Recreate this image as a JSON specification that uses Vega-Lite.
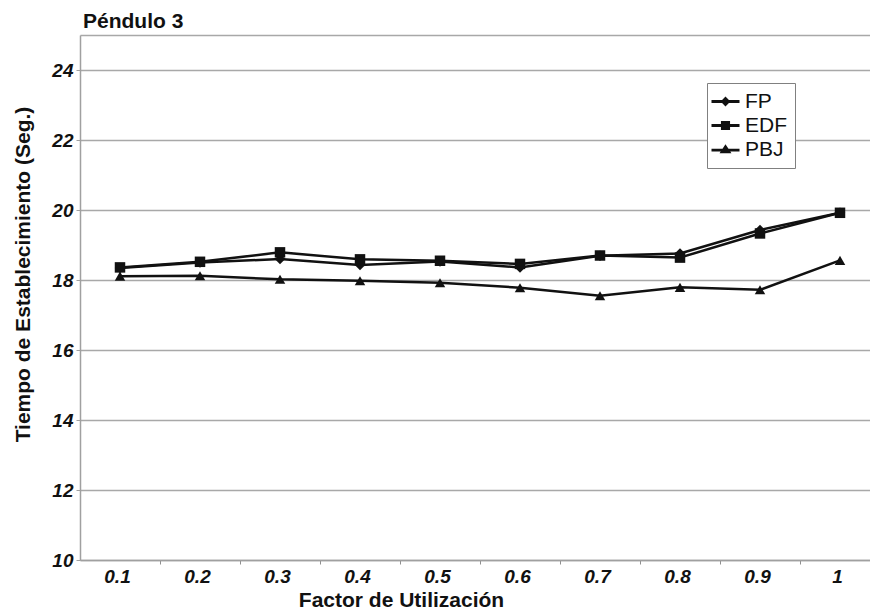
{
  "$schema": "https://vega.github.io/schema/vega-lite/v6.json",
  "width": 790,
  "height": 525,
  "autosize": {"type": "none"},
  "padding": {"left": 80, "top": 35, "right": 0, "bottom": 53},
  "background": "white",
  "title": {
    "text": "Péndulo 3",
    "anchor": "start",
    "frame": "group",
    "font": "Liberation Sans",
    "fontSize": 21,
    "fontWeight": "bold",
    "color": "#111111",
    "offset": 3,
    "dx": 3
  },
  "config": {
    "view": {"stroke": null},
    "font": "Liberation Sans"
  },
  "data": {
    "values": [
      {"u": "0.1", "s": "FP", "v": 18.34}, {"u": "0.1", "s": "EDF", "v": 18.36}, {"u": "0.1", "s": "PBJ", "v": 18.11},
      {"u": "0.2", "s": "FP", "v": 18.5}, {"u": "0.2", "s": "EDF", "v": 18.52}, {"u": "0.2", "s": "PBJ", "v": 18.12},
      {"u": "0.3", "s": "FP", "v": 18.6}, {"u": "0.3", "s": "EDF", "v": 18.79}, {"u": "0.3", "s": "PBJ", "v": 18.02},
      {"u": "0.4", "s": "FP", "v": 18.43}, {"u": "0.4", "s": "EDF", "v": 18.59}, {"u": "0.4", "s": "PBJ", "v": 17.98},
      {"u": "0.5", "s": "FP", "v": 18.53}, {"u": "0.5", "s": "EDF", "v": 18.55}, {"u": "0.5", "s": "PBJ", "v": 17.92},
      {"u": "0.6", "s": "FP", "v": 18.36}, {"u": "0.6", "s": "EDF", "v": 18.46}, {"u": "0.6", "s": "PBJ", "v": 17.78},
      {"u": "0.7", "s": "FP", "v": 18.69}, {"u": "0.7", "s": "EDF", "v": 18.7}, {"u": "0.7", "s": "PBJ", "v": 17.55},
      {"u": "0.8", "s": "FP", "v": 18.76}, {"u": "0.8", "s": "EDF", "v": 18.64}, {"u": "0.8", "s": "PBJ", "v": 17.79},
      {"u": "0.9", "s": "FP", "v": 19.43}, {"u": "0.9", "s": "EDF", "v": 19.33}, {"u": "0.9", "s": "PBJ", "v": 17.72},
      {"u": "1", "s": "FP", "v": 19.92}, {"u": "1", "s": "EDF", "v": 19.92}, {"u": "1", "s": "PBJ", "v": 18.56}
    ]
  },
  "encoding": {
    "x": {
      "field": "u",
      "type": "ordinal",
      "scale": {
        "type": "band",
        "domain": ["0.1", "0.2", "0.3", "0.4", "0.5", "0.6", "0.7", "0.8", "0.9", "1"],
        "range": [0, 800],
        "paddingInner": 0,
        "paddingOuter": 0
      },
      "axis": {
        "title": "Factor de Utilización",
        "titleFont": "Liberation Sans",
        "titleFontSize": 21,
        "titleFontWeight": "bold",
        "titleColor": "#111111",
        "titleX": 321,
        "titleY": 40,
        "titleBaseline": "middle",
        "titleAlign": "center",
        "labelFont": "Liberation Sans",
        "labelFontSize": 19,
        "labelFontStyle": "italic",
        "labelFontWeight": "bold",
        "labelColor": "#111111",
        "labelAngle": 0,
        "labelPadding": 3,
        "labelOffset": -43,
        "tickOffset": 40,
        "tickSize": 4,
        "tickColor": "#909090",
        "domainColor": "#a0a0a0",
        "domainWidth": 1.5,
        "grid": false
      }
    },
    "y": {
      "field": "v",
      "type": "quantitative",
      "scale": {"domain": [10, 25], "nice": false, "zero": false},
      "axis": {
        "title": "Tiempo de Establecimiento (Seg.)",
        "titleFont": "Liberation Sans",
        "titleFontSize": 21,
        "titleFontWeight": "bold",
        "titleColor": "#111111",
        "titleAngle": -90,
        "titleX": -57,
        "titleY": 239,
        "titleBaseline": "middle",
        "titleAlign": "center",
        "values": [10, 12, 14, 16, 18, 20, 22, 24, 25],
        "labelExpr": "datum.value == 25 ? '' : datum.label",
        "labelFont": "Liberation Sans",
        "labelFontSize": 19,
        "labelFontStyle": "italic",
        "labelFontWeight": "bold",
        "labelColor": "#111111",
        "labelPadding": 3,
        "tickSize": 4,
        "tickColor": {"condition": {"test": "datum.value == 25", "value": "transparent"}, "value": "#a0a0a0"},
        "domainColor": "#a0a0a0",
        "domainWidth": 1.5,
        "grid": true,
        "gridColor": "#a8a8a8",
        "gridWidth": 1.5
      }
    }
  },
  "resolve": {"scale": {"shape": "independent"}},
  "layer": [
    {
      "mark": {"type": "line", "color": "#111111", "strokeWidth": 2.5},
      "encoding": {
        "detail": {"field": "s", "type": "nominal"}
      }
    },
    {
      "mark": {"type": "point", "filled": true, "color": "#111111", "opacity": 1, "size": 110},
      "encoding": {
        "shape": {
          "field": "s",
          "type": "nominal",
          "scale": {"domain": ["FP", "EDF", "PBJ"], "range": ["diamond", "square", "triangle-up"]},
          "legend": null
        }
      }
    },
    {
      "transform": [{"filter": "datum.v > 1000"}],
      "mark": {"type": "point", "filled": true, "color": "#111111", "opacity": 1},
      "encoding": {
        "shape": {
          "field": "s",
          "type": "nominal",
          "scale": {
            "domain": ["FP", "EDF", "PBJ"],
            "range": [
              "M-2,-0.2L2,-0.2L2,0.2L-2,0.2ZM0,-0.7L0.7,0L0,0.7L-0.7,0Z",
              "M-2,-0.2L2,-0.2L2,0.2L-2,0.2ZM-0.65,-0.65L0.65,-0.65L0.65,0.65L-0.65,0.65Z",
              "M-2,-0.1L2,-0.1L2,0.3L-2,0.3ZM0,-0.75L0.85,0.55L-0.85,0.55Z"
            ]
          },
          "legend": {
            "title": null,
            "orient": "none",
            "legendX": 627,
            "legendY": 48,
            "padding": 8,
            "strokeColor": "#808080",
            "fillColor": "white",
            "labelFont": "Liberation Sans",
            "labelFontSize": 21,
            "labelColor": "#111111",
            "labelOffset": 9,
            "rowPadding": 2,
            "symbolSize": 196,
            "symbolFillColor": "#111111",
            "symbolStrokeColor": "#111111",
            "symbolStrokeWidth": 0,
            "symbolOpacity": 1
          }
        }
      }
    }
  ]
}
